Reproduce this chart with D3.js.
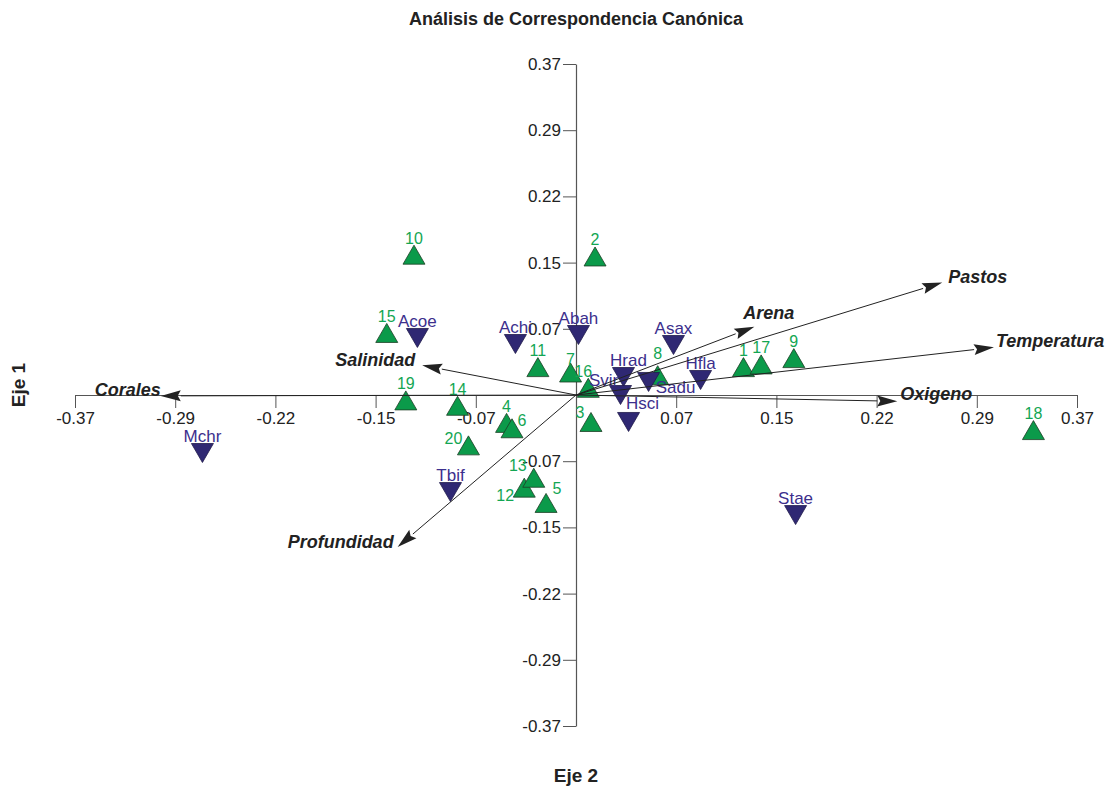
<!DOCTYPE html>
<html>
<head>
<meta charset="utf-8">
<script src="https://cdn.jsdelivr.net/npm/d3@7"></script>
<style>
	body { margin: 0; background: #fff; }
	svg { display: block; }
	text { font-family: "Liberation Sans", Arial, Helvetica, sans-serif; }
</style>
</head>
<body>
<svg id="chart" width="1114" height="789"></svg>
<script>
// axis ticks (both axes share them)
const tickValues = [-0.368, -0.2944, -0.2208, -0.1472, -0.0736, 0.0736, 0.1472, 0.2208, 0.2944, 0.368];
const tickLabels = ["-0.37", "-0.29", "-0.22", "-0.15", "-0.07", "0.07", "0.15", "0.22", "0.29", "0.37"];

// sites (green triangles)
const siteNames = ["1", "2", "3", "4", "5", "6", "7", "8", "9", "10",
	"11", "12", "13", "14", "15", "16", "17", "18", "19", "20"];
const siteX = [0.123, 0.014, 0.011, -0.051, -0.022, -0.047, -0.004, 0.060, 0.160, -0.119,
	-0.028, -0.038, -0.031, -0.087, -0.139, 0.009, 0.136, 0.336, -0.125, -0.079];
const siteY = [0.031, 0.154, -0.030, -0.031, -0.120, -0.037, 0.025, 0.022, 0.041, 0.156,
	0.031, -0.103, -0.092, -0.012, 0.069, 0.008, 0.034, -0.039, -0.006, -0.056];

// species (purple inverted triangles)
const speciesNames = ["Acoe", "Achi", "Abah", "Asax", "Hrad", "Svir", "Sadu", "Hfla", "Hsci", "Mchr", "Tbif", "Stae"];
const speciesX = [-0.1165, -0.0445, 0.0018, 0.0716, 0.0349, 0.0327, 0.0533, 0.0915, 0.0386, -0.2744, -0.0922, 0.1613];
const speciesY = [0.0634, 0.0567, 0.0667, 0.0556, 0.0200, 0.0000, 0.0145, 0.0167, -0.0300, -0.0645, -0.1079, -0.1335];

// environmental vectors
const envNames = ["Pastos", "Arena", "Temperatura", "Oxigeno", "Corales", "Salinidad", "Profundidad"];
const envX = [0.269, 0.131, 0.307, 0.236, -0.305, -0.113, -0.131];
const envY = [0.125, 0.076, 0.053, -0.007, -0.001, 0.033, -0.169];

// label nudges for crowded points (pixels)
const labelNudge = {
	"3": [-11, 7], "6": [10, 9], "20": [-15, 10], "13": [-16, 4], "12": [-19, 24],
	"5": [11, 2], "16": [-5, 0], "7": [0, 3], "8": [0, -5],
	"Hrad": [5, 0], "Svir": [-17, 2], "Sadu": [27, 22], "Hsci": [14, -2]
};
// env label placement: [anchor, dx, dy] relative to arrow tip
const envLabelPos = {
	"Pastos": ["start", 6, 0], "Arena": ["start", -11, -8], "Temperatura": ["start", 2, 0],
	"Oxigeno": ["start", 3, -1], "Corales": ["end", 0, 0], "Salinidad": ["end", -7, 1],
	"Profundidad": ["end", -4, 1]
};

const svg = d3.select("#chart");

const x = d3.scaleLinear().domain([-0.368, 0.368]).range([75, 1077]);
const y = d3.scaleLinear().domain([-0.368, 0.368]).range([726, 64]);

const green = "#0b9a4a", greenText = "#13a653";
const purple = "#2f2873", purpleText = "#3c2f8d";
const ink = "#222";

// title + axis titles
svg.append("text")
	.attr("x", 576).attr("y", 25)
	.attr("text-anchor", "middle")
	.attr("font-size", 18).attr("font-weight", "bold").attr("fill", ink)
	.text("Análisis de Correspondencia Canónica");

svg.append("text")
	.attr("transform", "translate(25,385) rotate(-90)")
	.attr("text-anchor", "middle")
	.attr("font-size", 19).attr("font-weight", "bold").attr("fill", ink)
	.text("Eje 1");

svg.append("text")
	.attr("x", 576).attr("y", 782)
	.attr("text-anchor", "middle")
	.attr("font-size", 19).attr("font-weight", "bold").attr("fill", ink)
	.text("Eje 2");

// axes crossing at origin
const fmt = d => tickLabels[tickValues.indexOf(d)];

const xAxis = svg.append("g")
	.attr("transform", `translate(0,${y(0)})`)
	.call(d3.axisBottom(x).tickValues(tickValues).tickFormat(fmt).tickSizeInner(13).tickSizeOuter(0).tickPadding(4));

const yAxis = svg.append("g")
	.attr("transform", `translate(${x(0)},0)`)
	.call(d3.axisLeft(y).tickValues(tickValues).tickFormat(fmt).tickSizeInner(13).tickSizeOuter(0).tickPadding(2));

[xAxis, yAxis].forEach(a => {
	a.select(".domain").attr("stroke", "#555").attr("stroke-width", 1.2);
	a.selectAll(".tick line").attr("stroke", "#555");
	a.selectAll(".tick text")
		.attr("font-family", "'Liberation Sans', Arial, sans-serif")
		.attr("font-size", 17).attr("fill", "#222");
});

// markers
const tw = 22, th = 19;
const upTri = `M0,${-th/2}L${tw/2},${th/2}L${-tw/2},${th/2}Z`;
const downTri = `M0,${th/2}L${-tw/2},${-th/2}L${tw/2},${-th/2}Z`;

const sites = siteNames.map((n, i) => ({name: n, x: siteX[i], y: siteY[i]}));
const species = speciesNames.map((n, i) => ({name: n, x: speciesX[i], y: speciesY[i]}));
const env = envNames.map((n, i) => ({name: n, x: envX[i], y: envY[i]}));

svg.append("g").selectAll("path")
	.data(sites).join("path")
	.attr("d", upTri)
	.attr("transform", d => `translate(${x(d.x)},${y(d.y)})`)
	.attr("fill", green).attr("stroke", "#1d3d25").attr("stroke-width", 0.8);

svg.append("g").selectAll("path")
	.data(species).join("path")
	.attr("d", downTri)
	.attr("transform", d => `translate(${x(d.x)},${y(d.y)})`)
	.attr("fill", purple).attr("stroke", "#1f1a4a").attr("stroke-width", 0.8);

function nudge(d, k) {
	return (labelNudge[d.name] || [0, 0])[k];
}

svg.append("g").selectAll("text")
	.data(sites).join("text")
	.attr("x", d => x(d.x) + nudge(d, 0))
	.attr("y", d => y(d.y) - 11 + nudge(d, 1))
	.attr("text-anchor", "middle")
	.attr("font-size", 16).attr("fill", greenText)
	.text(d => d.name);

svg.append("g").selectAll("text")
	.data(species).join("text")
	.attr("x", d => x(d.x) + nudge(d, 0))
	.attr("y", d => y(d.y) - 11 + nudge(d, 1))
	.attr("text-anchor", "middle")
	.attr("font-size", 17).attr("fill", purpleText)
	.text(d => d.name);

// env arrows
const headLen = 20, headHalf = 5.5;
const arrows = svg.append("g");

env.forEach(d => {
	const x0 = x(0), y0 = y(0), x1 = x(d.x), y1 = y(d.y);
	const ang = Math.atan2(y1 - y0, x1 - x0);
	const bx = x1 - headLen * Math.cos(ang), by = y1 - headLen * Math.sin(ang);
	arrows.append("line")
		.attr("x1", x0).attr("y1", y0).attr("x2", bx).attr("y2", by)
		.attr("stroke", ink).attr("stroke-width", 1);
	const px = -Math.sin(ang) * headHalf, py = Math.cos(ang) * headHalf;
	const back = 3;
	const nx = bx + back * Math.cos(ang), ny = by + back * Math.sin(ang);
	arrows.append("path")
		.attr("d", `M${x1},${y1}L${bx + px},${by + py}L${nx},${ny}L${bx - px},${by - py}Z`)
		.attr("fill", ink);

	const pos = envLabelPos[d.name];
	arrows.append("text")
		.attr("x", x1 + pos[1]).attr("y", y1 + pos[2])
		.attr("text-anchor", pos[0])
		.attr("font-size", 18).attr("font-weight", "bold").attr("font-style", "italic")
		.attr("fill", ink)
		.text(d.name);
});
</script>
</body>
</html>
